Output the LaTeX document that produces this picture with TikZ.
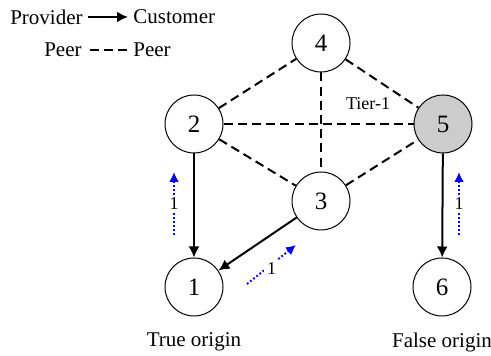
\documentclass[tikz,border=0pt]{standalone}
\usepackage{fontspec}
\setmainfont{Liberation Serif}
\usetikzlibrary{arrows.meta,positioning}

\tikzset{
	as/.style={circle, draw, line width=0.5pt, minimum size=29pt, inner sep=0pt,
		font=\fontsize{12.5}{14}\selectfont},
	txt/.style={inner sep=0pt, font=\fontsize{10.5}{12}\selectfont},
	peer/.style={line width=1pt, dash pattern=on 4.5pt off 2.6pt},
	prov/.style={line width=1pt, -{Latex[length=5.5pt,width=5.5pt]}},
	route/.style={blue, line width=1pt, dash pattern=on 0.9pt off 1.1pt,
		-{Latex[length=5pt,width=5pt]}},
	hop/.style={fill=white, text=black, inner sep=1.5pt, font=\fontsize{9}{10}\selectfont}
}

\begin{document}
\begin{tikzpicture}
	\begin{scope}[x=0.5pt,y=-0.5pt]
	\useasboundingbox (0,0) rectangle (491,356);

	% legend
	\node[txt, anchor=east] (provider) at (83,17) {Provider};
	\node[txt, anchor=west] (customer) at (133,17) {Customer};
	\draw[prov, shorten <=2.5pt, shorten >=2.5pt] (provider) -- (customer);
	\node[txt, anchor=east] (peerA) at (82,50) {Peer};
	\node[txt, anchor=west] (peerB) at (133,50) {Peer};
	\draw[peer, shorten <=4pt, shorten >=1.5pt] (peerA) -- (peerB);

	% ASes
	\node[as] (n1) at (194,287) {1};
	\node[as] (n2) at (194,124) {2};
	\node[as] (n3) at (321,201) {3};
	\node[as] (n4) at (321,43) {4};
	\node[as, fill=gray!40] (n5) at (443,124) {5};
	\node[as] (n6) at (442,287) {6};

	\node[inner sep=0pt, font=\fontsize{9}{10}\selectfont] (tier) at (368,104) {Tier-1};

	% peer links
	\foreach \a/\b in {2/4,4/5,4/3,2/5,2/3,3/5}
	\draw[peer] (n\a) -- (n\b);

	% provider -> customer
	\draw[prov] (n2) -- (n1);
	\draw[prov] (n3) -- (n1);
	\draw[prov] (n5) -- (n6);

	% announcements
	\coordinate (r21s) at (174,235);
	\coordinate (r21e) at (174,172);
	\coordinate (r13s) at (247,284);
	\coordinate (r13e) at (296,245);
	\coordinate (r65s) at (459,235);
	\coordinate (r65e) at (459,172);
	\draw[route] (r21s) -- node[hop] {1} (r21e);
	\draw[route] (r13s) -- node[hop, yshift=-2pt] {1} (r13e);
	\draw[route] (r65s) -- node[hop] {1} (r65e);

	\node[txt, below=8pt of n1] (true) {True origin};
	\node[txt, below=8pt of n6] (false) {False origin};
	\end{scope}
\end{tikzpicture}
\end{document}
